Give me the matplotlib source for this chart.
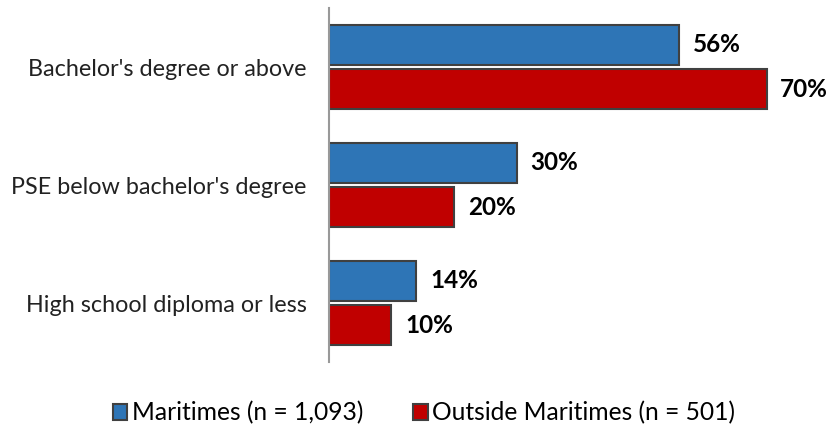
import numpy as np
import matplotlib
matplotlib.use("Agg")
import matplotlib.pyplot as plt

# Education level by region
categories = ["Bachelor's degree or above", "PSE below bachelor's degree", "High school diploma or less"]
maritimes = [56, 30, 14]
outside = [70, 20, 10]
series_names = ["Maritimes (n = 1,093)", "Outside Maritimes (n = 501)"]

plt.rcParams['font.family'] = ['Lato', 'DejaVu Sans']

fig = plt.figure(figsize=(8.29, 4.29), dpi=100)
ax = fig.add_axes([329 / 829, 1 - 362 / 429, 1 - 329 / 829, 354 / 429])

y = np.arange(len(categories))
h = 0.34
off = 0.187
b1 = ax.barh(y - off, maritimes, height=h, color="#2E75B6", edgecolor="#404040", linewidth=1.5,
             label=series_names[0])
b2 = ax.barh(y + off, outside, height=h, color="#C00000", edgecolor="#404040", linewidth=1.5,
             label=series_names[1])

for bars, vals in [(b1, maritimes), (b2, outside)]:
    for bar, v in zip(bars, vals):
        ax.text(bar.get_width() + 2.2, bar.get_y() + bar.get_height() / 2, f"{v}%",
                va="center", ha="left", fontsize=17.5, fontweight="bold", color="black")

ax.set_xlim(0, 80)
ax.set_ylim(2.5, -0.5)
ax.set_yticks(y)
ax.set_yticklabels(categories, fontsize=16.8, color="#222222")
ax.tick_params(axis="y", length=0, pad=16)
ax.set_xticks([])
for s in ["top", "right", "bottom"]:
    ax.spines[s].set_visible(False)
ax.spines["left"].set_color("#999999")
ax.spines["left"].set_linewidth(1.5)

leg = fig.legend(handles=[b1, b2], loc="center", bbox_to_anchor=(424 / 829, 1 - 413 / 429),
                 ncol=2, frameon=False, fontsize=17.7, handlelength=0.6, handleheight=0.6,
                 handletextpad=0.2, columnspacing=2.0)

fig.savefig("out.png", dpi=100)
